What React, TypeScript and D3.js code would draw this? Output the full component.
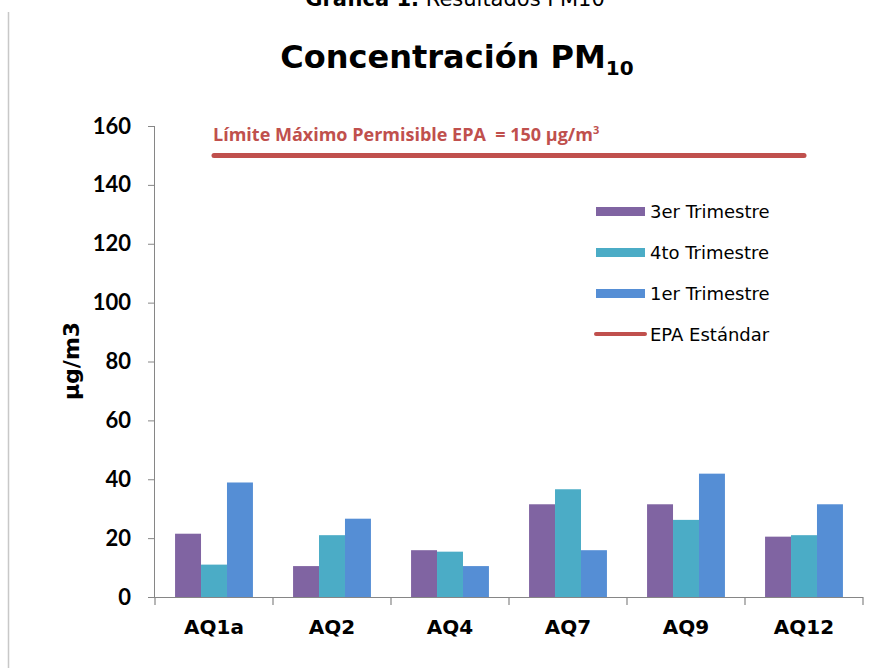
import React from "react";
import * as d3 from "d3";

const categories = ["AQ1a", "AQ2", "AQ4", "AQ7", "AQ9", "AQ12"];
const seriesNames = ["3er Trimestre", "4to Trimestre", "1er Trimestre"];
const s3er = [21.5, 10.5, 15.9, 31.5, 31.5, 20.5];
const s4to = [11.0, 21.0, 15.4, 36.6, 26.2, 21.0];
const s1er = [38.9, 26.6, 10.5, 15.9, 41.9, 31.5];
const epaName = "EPA Estándar";
const epaValues = [150, 150, 150, 150, 150, 150];
const yTicks = [0, 20, 40, 60, 80, 100, 120, 140, 160];

const colors = ["#8064A2", "#4BACC6", "#558ED5"];
const red = "#C0504D";
const axisColor = "#868686";
const font = "Lato, 'Liberation Sans', sans-serif";
const wide = "'DejaVu Sans', sans-serif";

export default function App() {
  const W = 888, H = 668;
  const left = 155, right = 863, top = 126, bottom = 597;
  const x = d3.scaleBand<string>().domain(categories).range([left, right]).paddingInner(0).paddingOuter(0);
  const y = d3.scaleLinear().domain([0, 160]).range([bottom, top]);
  const groupPad = 0.17;
  const inner = d3.scaleBand<number>().domain([0, 1, 2]).range([x.bandwidth() * groupPad, x.bandwidth() * (1 - groupPad)]);
  const series = [s3er, s4to, s1er];
  const line = d3.line<number>().x((_, i) => (x(categories[i]) as number) + x.bandwidth() / 2).y(d => y(d));
  const boundaries = [...categories.map(c => x(c) as number), right];
  const legendY = [211, 252, 293, 334];

  return (
    <svg width={W} height={H} style={{ position: "absolute", left: 0, top: 0, background: "#fff" }}>
      <line x1={8.5} x2={8.5} y1={12} y2={H} stroke="#c8c8c8" strokeWidth={1.5} />
      <text x={455} y={6} textAnchor="middle" fontFamily={wide} fontSize={21} fill="#000">
        <tspan fontWeight="bold">Gráfica 1.</tspan>
        <tspan> Resultados PM10</tspan>
      </text>
      <text x={457} y={68} textAnchor="middle" fontFamily={wide} fontWeight="bold" fontSize={32} fill="#000">
        Concentración PM<tspan fontSize={20} dy={7}>10</tspan>
      </text>

      {/* bars */}
      {series.map((vals, si) =>
        vals.map((v, ci) => (
          <rect key={`${si}-${ci}`}
            x={(x(categories[ci]) as number) + (inner(si) as number)}
            y={y(v)} width={inner.bandwidth()} height={y(0) - y(v)}
            fill={colors[si]} />
        ))
      )}

      {/* y axis */}
      <line x1={left - 0.5} x2={left - 0.5} y1={top} y2={bottom} stroke={axisColor} strokeWidth={1} />
      {yTicks.map(t => (
        <g key={t}>
          <line x1={left - 7} x2={left} y1={y(t) + 0.5} y2={y(t) + 0.5} stroke={axisColor} />
          <text x={131} y={y(t) + 7.5} textAnchor="end" fontFamily={font} fontWeight="bold" fontSize={22} fill="#000">{t}</text>
        </g>
      ))}
      {/* x axis */}
      <line x1={left - 0.5} x2={right} y1={bottom + 0.5} y2={bottom + 0.5} stroke={axisColor} strokeWidth={1.2} />
      {boundaries.map((b, i) => (
        <line key={i} x1={b} x2={b} y1={bottom} y2={bottom + 8} stroke={axisColor} strokeWidth={1.2} />
      ))}
      {categories.map(c => (
        <text key={c} x={(x(c) as number) + x.bandwidth() / 2} y={634} textAnchor="middle" fontFamily={wide} fontWeight="bold" fontSize={20} fill="#000">{c}</text>
      ))}
      <text transform={`translate(79,361) rotate(-90)`} textAnchor="middle" fontFamily={wide} fontWeight="bold" fontSize={22} fill="#000">µg/m3</text>

      {/* EPA line */}
      <path d={line(epaValues) || ""} fill="none" stroke={red} strokeWidth={5} strokeLinecap="round" />
      <text x={213} y={141} fontFamily="'Open Sans', sans-serif" fontWeight="bold" fontSize={18} fill={red}>
        Límite Máximo Permisible EPA {"\u00a0"}= 150 µg/m<tspan fontSize={11} dy={-7}>3</tspan>
      </text>

      {/* legend */}
      {seriesNames.map((n, i) => (
        <g key={n}>
          <rect x={596} y={legendY[i] - 4} width={49} height={9} fill={colors[i]} />
          <text x={650} y={legendY[i] + 7} fontFamily={wide} fontSize={18} fill="#000">{n}</text>
        </g>
      ))}
      <line x1={596} x2={645} y1={legendY[3]} y2={legendY[3]} stroke={red} strokeWidth={4} strokeLinecap="round" />
      <text x={650} y={legendY[3] + 7} fontFamily={wide} fontSize={18} fill="#000">{epaName}</text>
    </svg>
  );
}
